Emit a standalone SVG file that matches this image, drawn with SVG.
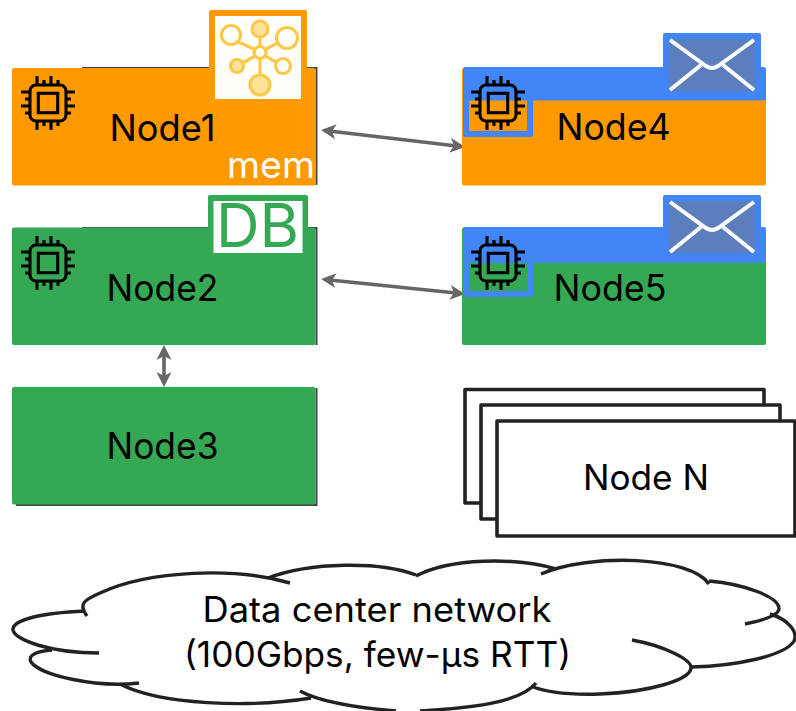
<svg xmlns="http://www.w3.org/2000/svg" width="796" height="711" viewBox="0 0 796 711">
<style>
text{font-family:"Inter","Open Sans","Liberation Sans",sans-serif;fill:#000;text-anchor:start}
.lbl{font-size:37px}
.edge{fill:none;stroke:#666;stroke-width:3.6;marker-start:url(#ah);marker-end:url(#ah)}
.cloud{fill:none;stroke:#222;stroke-width:3.4;stroke-linecap:butt}
.nn{fill:#fff;stroke:#222;stroke-width:3.6;stroke-linejoin:round}
.edge-shade{fill:none;stroke:#444;stroke-width:2}
.chip path,.chip rect{fill:none;stroke:#000;stroke-width:3.1}
.g circle,.g path{stroke:#fbc94a;stroke-width:3.2;fill:#fff}
.g .f{fill:#fde29a}
.g path{fill:none}
.env{fill:none;stroke:#fff;stroke-width:4}
</style>
<defs>
<marker id="ah" markerUnits="userSpaceOnUse" markerWidth="16" markerHeight="16" refX="12" refY="8" orient="auto-start-reverse" viewBox="0 0 16 16">
<path d="M16 8 L1 0.5 L5 8 L1 15.5 Z" fill="#666"/>
</marker>
<g id="chip" class="chip">
<rect x="-18" y="-18" width="36" height="36" rx="6"/>
<rect x="-9.700" y="-9.700" width="19.400" height="19.400"/>
<path d="M-18 -11H-27M-18 -4H-23M-18 3H-27M-18 10H-23M18 -11H27M18 -4H23M18 3H27M18 10H23M-11 -18V-27M-4 -18V-23M3 -18V-27M10 -18V-23M-11 18V27M-4 18V23M3 18V27M10 18V23"/>
</g>
<g id="envglyph">
<rect x="0" y="0" width="86" height="52" fill="#5b7fbd"/>
<path class="env" d="M1 1 L37 27 Q43 31 49 27 L85 1 M1 51 L32 26 M85 51 L54 26"/>
</g>
</defs>

<g id="connectors">
<path class="edge" d="M325 130.500L461 146.500"/>
<path class="edge" d="M325 279.500L461 293.500"/>
<path class="edge" d="M164 349V383"/>
</g>

<g id="node1">
<path class="edge-shade" d="M82 68H316.500V185"/>
<rect x="12" y="68" width="303.500" height="117.500" rx="2" fill="#ff9900"/>
<use href="#chip" x="48" y="103"/>
<rect x="209" y="10" width="98" height="92" rx="2" fill="#ff9900"/>
<rect x="215" y="16" width="86" height="83" fill="#fffefb"/>
<g class="g">
<path d="M260 36V46M238 42L254 49M278 43L266 49M243 63L255 56M276 62L265 56M260 58V75"/>
<circle class="f" cx="260" cy="29" r="8"/>
<circle cx="231" cy="35" r="9.500"/>
<circle cx="287" cy="38" r="10.500"/>
<circle class="f" cx="237" cy="66" r="6.500"/>
<circle cx="283" cy="66" r="7.500"/>
<circle class="f" cx="260" cy="85" r="10"/>
<circle cx="260" cy="52.500" r="6"/>
</g>
<text class="lbl" x="109.500" y="140.500" textLength="106" lengthAdjust="spacingAndGlyphs">Node1</text>
<text class="lbl" x="227" y="178" textLength="88" lengthAdjust="spacingAndGlyphs" style="fill:#fff">mem</text>
</g>

<g id="node4">
<rect x="462" y="68" width="304" height="117.500" rx="2" fill="#ff9900"/>
<path d="M463 69Q463 67 465 67H764Q766 67 766 69V100.500H533V135Q533 137 531 137H465Q463 137 463 135Z" fill="#4285f4"/>
<rect x="469" y="100.500" width="58" height="30.500" fill="#ff9900"/>
<rect x="663" y="33" width="98" height="67" rx="2" fill="#4285f4"/>
<use href="#envglyph" x="669" y="39"/>
<use href="#chip" x="498" y="103"/>
<text class="lbl" x="556.500" y="139.500" textLength="114" lengthAdjust="spacingAndGlyphs">Node4</text>
</g>

<g id="node2">
<path class="edge-shade" d="M82 228H316.500V345"/>
<rect x="12" y="227.500" width="303.500" height="117.500" rx="2" fill="#34a853"/>
<use href="#chip" x="48" y="263"/>
<rect x="208" y="195" width="100" height="60" rx="2" fill="#34a853"/>
<rect x="213.500" y="201" width="89" height="52" fill="#fff"/>
<text x="216" y="247" font-size="61" textLength="83" lengthAdjust="spacingAndGlyphs" style="fill:#34a853">DB</text>
<text class="lbl" x="106.500" y="300.500" textLength="112" lengthAdjust="spacingAndGlyphs">Node2</text>
</g>

<g id="node5">
<path class="edge-shade" d="M532 228H765" style="stroke-width:1.500"/>
<rect x="462" y="227.500" width="304" height="117.500" rx="2" fill="#34a853"/>
<path d="M463 229Q463 227 465 227H764Q766 227 766 229V261Q766 263 764 263H533V295Q533 297 531 297H465Q463 297 463 295Z" fill="#4285f4"/>
<rect x="469" y="263" width="58" height="28" fill="#34a853"/>
<rect x="663" y="195" width="98" height="68" rx="2" fill="#4285f4"/>
<use href="#envglyph" x="669" y="201"/>
<use href="#chip" x="498" y="263"/>
<text class="lbl" x="553.500" y="300.500" textLength="113" lengthAdjust="spacingAndGlyphs">Node5</text>
</g>

<g id="node3">
<path class="edge-shade" d="M16 505H316.500V388"/>
<rect x="12" y="387" width="303.500" height="117.500" rx="2" fill="#34a853"/>
<text class="lbl" x="106.500" y="458.500" textLength="112" lengthAdjust="spacingAndGlyphs">Node3</text>
</g>

<g id="nodeN">
<rect class="nn" x="465" y="389.500" width="299" height="113.500"/>
<rect class="nn" x="481" y="405" width="299" height="114"/>
<rect class="nn" x="497" y="421" width="298" height="115"/>
<text x="583" y="489.500" font-size="35" textLength="126" lengthAdjust="spacingAndGlyphs">Node N</text>
</g>

<g id="cloud">
<path class="cloud" d="M87 616C78 604 84 600 100 593C150 570 235 567 290 583"/>
<path class="cloud" d="M268 578C310 562 380 561 416 575"/>
<path class="cloud" d="M416 576C450 558 515 557 556 569"/>
<path class="cloud" d="M541 574C590 553 690 556 709 584"/>
<path class="cloud" d="M709 581C745 584 778 597 779 608C780 616 760 621 745 624"/>
<path class="cloud" d="M770 614C790 620 798 633 794 641C785 656 735 666 692 667"/>
<path class="cloud" d="M632 640C665 646 692 660 691 668C690 680 650 692 600 694C570 695 545 692 531 686"/>
<path class="cloud" d="M536 683C520 703 470 708 420 711M396 711C360 708 320 702 300 691"/>
<path class="cloud" d="M311 698C250 708 160 705 120 684"/>
<path class="cloud" d="M139 683C95 688 40 675 31 662C27 655 38 651 52 650"/>
<path class="cloud" d="M99 653C50 653 15 640 13 630C12 620 40 613 85 611"/>
<text x="202.500" y="622" font-size="35" textLength="349" lengthAdjust="spacingAndGlyphs">Data center network</text>
<text x="184" y="666.500" font-size="35" textLength="387" lengthAdjust="spacingAndGlyphs">(100Gbps, few-µs RTT)</text>
</g>
</svg>
